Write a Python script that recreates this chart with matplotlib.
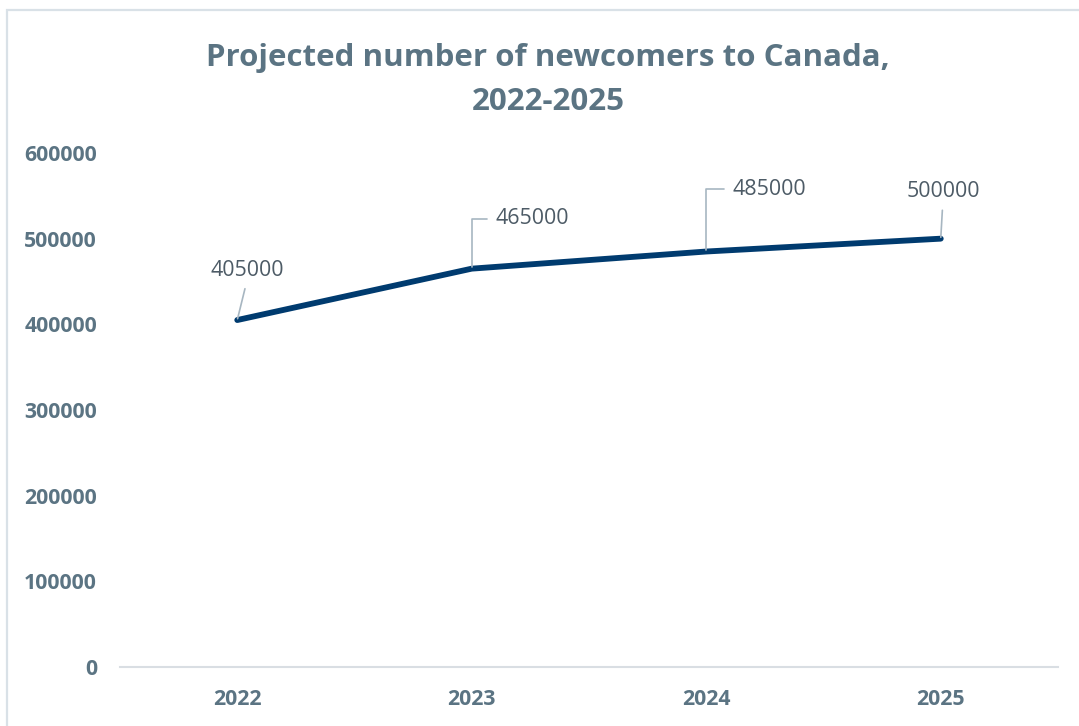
import matplotlib
matplotlib.use("Agg")
import matplotlib.pyplot as plt
from matplotlib.patches import Rectangle

years = ["2022", "2023", "2024", "2025"]
newcomers = [405000, 465000, 485000, 500000]
yticks = [0, 100000, 200000, 300000, 400000, 500000, 600000]
title = "Projected number of newcomers to Canada,\n2022-2025"

# label offsets in points (dx, dy), alignment, connection style
label_styles = [
    dict(off=(7, 36), ha="center", relpos=(0.5, 0.0), conn="arc3"),
    dict(off=(17, 36), ha="left", relpos=(0.0, 0.5), conn="angle,angleA=0,angleB=90,rad=0"),
    dict(off=(19, 45), ha="left", relpos=(0.0, 0.5), conn="angle,angleA=0,angleB=90,rad=0"),
    dict(off=(1.5, 34), ha="center", relpos=(0.5, 0.0), conn="arc3"),
]

plt.rcParams["font.family"] = ["Open Sans", "DejaVu Sans"]

W, H = 1079, 726
fig = plt.figure(figsize=(W / 100, H / 100), dpi=100)
fig.patch.set_facecolor("white")

# chart border
fig.patches.append(Rectangle((7 / W, -0.01), 1.1, 1 - 10 / H + 0.01, transform=fig.transFigure,
                             fill=False, edgecolor="#d9e1e7", linewidth=1.6))

ax = fig.add_axes([120 / W, 1 - 667 / H, (1058 - 120) / W, (667 - 153) / H])
x = list(range(len(years)))
ax.plot(x, newcomers, color="#003b6f", linewidth=4.2, solid_capstyle="round",
        solid_joinstyle="round", zorder=3)

ax.set_xlim(-0.5, len(years) - 0.5)
ax.set_ylim(0, 600000)
ax.set_yticks(yticks)
ax.set_yticklabels([str(v) for v in yticks])
ax.set_xticks(x)
ax.set_xticklabels(years)

for s in ["top", "right", "left"]:
    ax.spines[s].set_visible(False)
ax.spines["bottom"].set_color("#d9dee3")
ax.spines["bottom"].set_linewidth(1.5)
ax.tick_params(axis="both", length=0, labelsize=15.3, labelcolor="#5b7483")
ax.tick_params(axis="y", pad=16.5)
ax.tick_params(axis="x", pad=16)
for lab in ax.get_xticklabels() + ax.get_yticklabels():
    lab.set_fontweight("bold")

for xi, v, st in zip(x, newcomers, label_styles):
    ax.annotate(str(v), xy=(xi, v), xytext=st["off"], textcoords="offset points",
                ha=st["ha"], va="center", fontsize=15.4, color="#4d5b66",
                arrowprops=dict(arrowstyle="-", color="#a7b6c1", lw=1.2,
                                shrinkA=4, shrinkB=1, relpos=st["relpos"],
                                connectionstyle=st["conn"]))

fig.text(548 / W, 1 - 80 / H, title, ha="center", va="center", fontsize=22.5,
         fontweight="bold", color="#5b7483", linespacing=1.58)

fig.savefig("out.png", dpi=100)
